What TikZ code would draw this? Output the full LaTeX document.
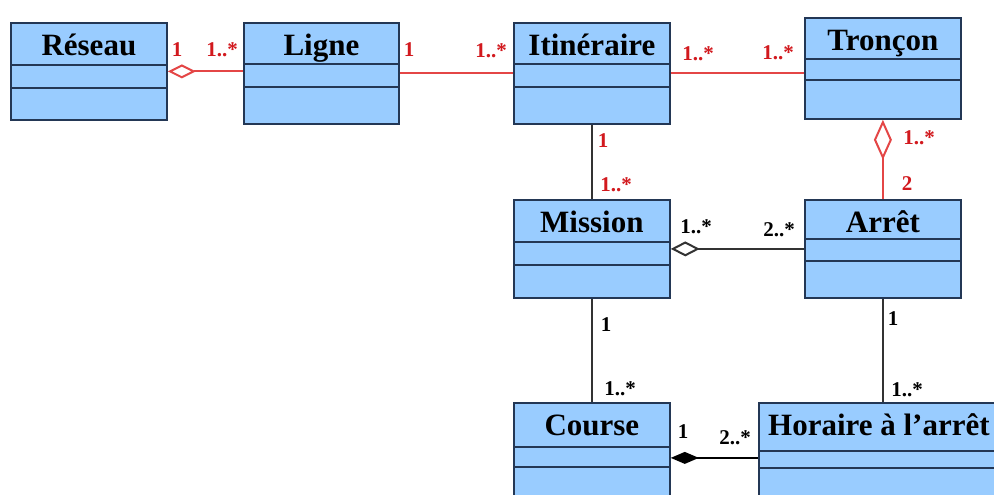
\documentclass[tikz,border=0pt]{standalone}
\usepackage{fontspec}
\setmainfont{Liberation Serif}
\usetikzlibrary{arrows.meta,calc}
\definecolor{boxfill}{RGB}{153,204,255}
\definecolor{boxline}{RGB}{35,55,85}
\definecolor{linered}{RGB}{228,70,70}
\definecolor{labred}{RGB}{210,25,30}
\tikzset{
  sep/.style={draw=boxline,line width=1.8pt},
  mult/.style={inner sep=0pt,font=\fontsize{21}{21}\bfseries\selectfont},
  redmult/.style={mult,text=labred}
}
\begin{document}
\begin{tikzpicture}[x=1pt,y=-1pt]
        \useasboundingbox[fill=white] (0,0) rectangle (994,495);
        \begin{scope}[every node/.style={draw=boxline,fill=boxfill,line width=1.8pt,anchor=north west,
            inner xsep=0pt,inner ysep=0pt,minimum width=156pt,text height=33pt,
            font=\fontsize{31}{31}\bfseries\selectfont}]
          \node[text depth=64pt] (reseau) at (10,22) {Réseau};
          \node[text depth=68pt,minimum width=155pt] (ligne) at (243,22) {Ligne};
          \node[text depth=68pt] (itineraire) at (513,22) {Itinéraire};
          \node[text depth=68pt] (troncon) at (804,17) {Tronçon};
          \node[text depth=65pt] (mission) at (513,199) {Mission};
          \node[text depth=65pt] (arret) at (804,199) {Arrêt};
          \node[text depth=77pt] (course) at (513,402) {Course};
          \node[text depth=77pt,minimum width=240pt] (horaire) at (758,402) {Horaire à l’arrêt};
        \end{scope}
        % compartiments
        \foreach \c/\a/\b in {reseau/43/66,ligne/42/65,itineraire/42/65,troncon/42/63,
                              mission/43/66,arret/40/62,course/45/65,horaire/49/66} {
          \draw[sep] ($(\c.north west)+(0,\a)$) -- ($(\c.north east)+(0,\a)$);
          \draw[sep] ($(\c.north west)+(0,\b)$) -- ($(\c.north east)+(0,\b)$);
        }
        \begin{scope}[line width=2pt]
          \draw[linered,{Diamond[open,length=28pt,width=14pt]}-] (reseau.east) -- (reseau.east -| ligne.west);
          \draw[linered] (ligne.east) -- (ligne.east -| itineraire.west);
          \draw[linered] (itineraire.east) -- (itineraire.east -| troncon.west);
          \draw[linered,{Diamond[open,length=40pt,width=18pt]}-] (troncon.south) -- (arret.north);
          \draw[black!80] (itineraire.south) -- (mission.north);
          \draw[black!80,{Diamond[open,length=29pt,width=15pt]}-] (mission.east) -- (mission.east -| arret.west);
          \draw[black!80] (mission.south) -- (course.north);
          \draw[black!80] (arret.south) -- (arret.south |- horaire.north);
          \draw[black,{Diamond[length=28pt,width=12pt]}-] (course.east) -- (course.east -| horaire.west);
        \end{scope}
        % multiplicites
        \node[redmult] (m1) at (177,50) {1};
        \node[redmult] (m2) at (222,50) {1..*};
        \node[redmult] (m3) at (409,50) {1};
        \node[redmult] (m4) at (491,51) {1..*};
        \node[redmult] (m5) at (698,54) {1..*};
        \node[redmult] (m6) at (778,53) {1..*};
        \node[redmult] (m7) at (603,141) {1};
        \node[redmult] (m8) at (616,185) {1..*};
        \node[redmult] (m9) at (919,138) {1..*};
        \node[redmult] (m10) at (907,184) {2};
        \node[mult] (m11) at (696,227) {1..*};
        \node[mult] (m12) at (779,230) {2..*};
        \node[mult] (m13) at (606,325) {1};
        \node[mult] (m14) at (620,389) {1..*};
        \node[mult] (m15) at (893,319) {1};
        \node[mult] (m16) at (907,390) {1..*};
        \node[mult] (m17) at (683,432) {1};
        \node[mult] (m18) at (735,438) {2..*};
\end{tikzpicture}
\end{document}
